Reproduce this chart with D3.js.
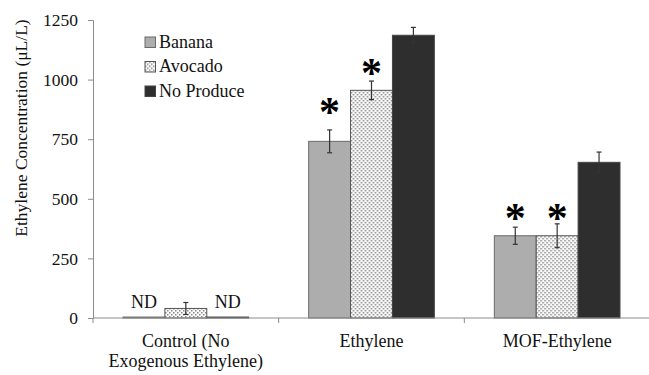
<!DOCTYPE html>
<html>
<head>
<meta charset="utf-8">
<script src="https://cdn.jsdelivr.net/npm/d3@7"></script>
<style>
  body { margin: 0; background: #fff; }
  svg text { font-family: 'Liberation Serif', 'Times New Roman', serif; fill: #111; }
</style>
</head>
<body>
<div id="chart"></div>
<script>
var categories = [["Control (No", "Exogenous Ethylene)"], ["Ethylene"], ["MOF-Ethylene"]];
var series = ["Banana", "Avocado", "No Produce"];
var banana = [4, 741, 345];
var bananaErr = [0, 48, 36];
var avocado = [40, 955, 345];
var avocadoErr = [25, 39, 50];
var noProduce = [4, 1186, 653];
var noProduceErr = [0, 33, 43];
// asterisk levels (µL/L), null = no mark
var bananaStar = [null, 883, 442];
var avocadoStar = [null, 1049, 442];
var ndLabels = [["ND", null, "ND"], [null, null, null], [null, null, null]];
var yTicks = [0, 250, 500, 750, 1000, 1250];

var width = 649, height = 375;
var mLeft = 93, mRight = 650, mTop = 20, mBottom = 318;
var serif = "Liberation Serif, Times New Roman, serif";

var values = [banana, avocado, noProduce];
var errs = [bananaErr, avocadoErr, noProduceErr];
var stars = [bananaStar, avocadoStar, null];

var svg = d3.select("#chart").append("svg")
  .attr("width", width).attr("height", height)
  .attr("font-family", serif);

var defs = svg.append("defs");
var pat = defs.append("pattern")
  .attr("id", "dots").attr("patternUnits", "userSpaceOnUse")
  .attr("width", 4).attr("height", 4);
pat.append("rect").attr("width", 4).attr("height", 4).attr("fill", "#fafafa");
pat.append("rect").attr("x", 0).attr("y", 0).attr("width", 1.5).attr("height", 1.5).attr("fill", "#8a8a8a");
pat.append("rect").attr("x", 2).attr("y", 2).attr("width", 1.5).attr("height", 1.5).attr("fill", "#8a8a8a");

var fills = ["#adadad", "url(#dots)", "#2e2e2e"];
var strokes = ["#6a6a6a", "#555", "#444"];

var catIdx = d3.range(categories.length);
var x0 = d3.scaleBand().domain(catIdx).range([mLeft, mRight]);
var x1 = d3.scaleBand().domain(d3.range(series.length))
  .range([30, x0.bandwidth() - 30]);
var y = d3.scaleLinear().domain([0, 1250]).range([mBottom, mTop]);

// y axis
var yAxis = svg.append("g").attr("transform", "translate(" + mLeft + ",0)")
  .call(d3.axisLeft(y).tickValues(yTicks).tickSize(5).tickPadding(10).tickFormat(d3.format("d")));
yAxis.attr("font-family", serif).attr("font-size", 17.5);
yAxis.select(".domain").attr("stroke", "#8c8c8c");
yAxis.selectAll(".tick line").attr("stroke", "#8c8c8c");
yAxis.selectAll(".tick text").attr("fill", "#111");

svg.append("text")
  .attr("transform", "translate(27,128) rotate(-90)")
  .attr("text-anchor", "middle")
  .attr("font-size", 17.5)
  .text("Ethylene Concentration (\u03bcL/L)");

// bars
var groups = svg.selectAll("g.cat").data(catIdx).enter().append("g")
  .attr("class", "cat")
  .attr("transform", function(c) { return "translate(" + x0(c) + ",0)"; });

groups.each(function(c) {
  var g = d3.select(this);
  series.forEach(function(s, i) {
    var v = values[i][c];
    var bx = x1(i), bw = x1.bandwidth();
    g.append("rect")
      .attr("x", bx).attr("y", y(v))
      .attr("width", bw).attr("height", y(0) - y(v))
      .attr("fill", fills[i]).attr("stroke", strokes[i]).attr("stroke-width", 1);
    var e = errs[i][c];
    if (e > 0) {
      var cx = bx + bw / 2;
      g.append("line").attr("x1", cx).attr("x2", cx)
        .attr("y1", y(v - e)).attr("y2", y(v + e))
        .attr("stroke", "#333").attr("stroke-width", 1.2);
      [v - e, v + e].forEach(function(t) {
        g.append("line").attr("x1", cx - 2.5).attr("x2", cx + 2.5)
          .attr("y1", y(t)).attr("y2", y(t))
          .attr("stroke", "#333").attr("stroke-width", 1.2);
      });
    }
    if (stars[i] && stars[i][c] != null) {
      g.append("text")
        .attr("x", bx + bw / 2).attr("y", y(stars[i][c]) + 19)
        .attr("text-anchor", "middle")
        .attr("font-size", 42).attr("font-weight", "bold")
        .style("fill", "#000")
        .text("*");
    }
    if (ndLabels[c][i]) {
      g.append("text")
        .attr("x", bx + bw / 2).attr("y", 308)
        .attr("text-anchor", "middle")
        .attr("font-size", 18)
        .text(ndLabels[c][i]);
    }
  });
});

// x axis
svg.append("line").attr("x1", mLeft).attr("x2", mRight)
  .attr("y1", mBottom).attr("y2", mBottom)
  .attr("stroke", "#8c8c8c");
catIdx.forEach(function(c) {
  var tx = x0(c);
  svg.append("line").attr("x1", tx).attr("x2", tx)
    .attr("y1", mBottom).attr("y2", mBottom + 5).attr("stroke", "#8c8c8c");
});
groups.each(function(c) {
  var t = d3.select(this).append("text")
    .attr("text-anchor", "middle")
    .attr("font-size", 18);
  categories[c].forEach(function(line, k) {
    t.append("tspan").attr("x", x0.bandwidth() / 2)
      .attr("y", 347 + k * 20).text(line);
  });
});

// legend
var legend = svg.append("g").attr("transform", "translate(145,37)");
series.forEach(function(s, i) {
  var row = legend.append("g").attr("transform", "translate(0," + (i * 24.5) + ")");
  row.append("rect").attr("width", 10.5).attr("height", 10.5)
    .attr("fill", fills[i]).attr("stroke", strokes[i]);
  row.append("text").attr("x", 14).attr("y", 10.5)
    .attr("font-size", 18).text(s);
});
</script>
</body>
</html>
